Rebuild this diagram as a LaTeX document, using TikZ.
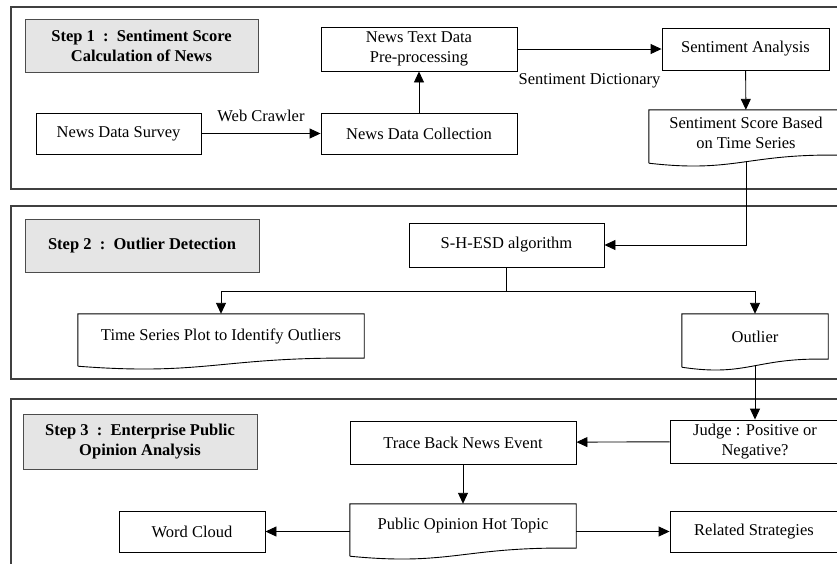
\documentclass[tikz,border=0pt]{standalone}
\usepackage{fontspec}
\setmainfont{Liberation Serif}
\usetikzlibrary{arrows.meta,calc}
\newcommand{\docwave}[1]{%
\draw[line width=0.9pt] ([yshift=-8pt]#1.south west) -- (#1.north west) -- (#1.north east) -- (#1.south east)
  .. controls ($(#1.south)+(0pt,2pt)$) and ($(#1.south west)!0.45!(#1.south east)+(0pt,-18pt)$) .. ([yshift=-8pt]#1.south west);}

\begin{document}
\begin{tikzpicture}[x=1pt,y=-1pt,font=\fontsize{16.5}{20}\selectfont,
  box/.style={draw,line width=0.9pt,align=center,inner sep=0pt},
  docbox/.style={align=center,inner sep=0pt},
  stepbox/.style={draw=black!70,fill=black!10,line width=1pt,align=center,inner sep=0pt,font=\fontsize{16.5}{20}\selectfont\bfseries},
  panel/.style={draw=black!75,line width=1.2pt},
  lbl/.style={inner sep=0pt},
  arr/.style={-{Triangle[length=11pt,width=10pt]},line width=0.9pt}]
\clip (0,0) rectangle (837,563);
\draw[panel] (11,7) rectangle (850,189);
\draw[panel] (11,206) rectangle (850,379);
\draw[panel] (11,399) rectangle (850,600);
\node[stepbox,minimum width=233,minimum height=53] (step1) at (141.5,45.5) {Step 1\enspace:\enspace Sentiment Score\\Calculation of News};
\node[box,minimum width=165,minimum height=41] (survey) at (118.5,133.5) {News Data Survey};
\node[box,minimum width=196,minimum height=41] (collect) at (419,133.5) {News Data Collection};
\node[box,minimum width=196,minimum height=44] (prep) at (419,49) {News Text Data\\Pre-processing};
\node[box,minimum width=167,minimum height=42] (senti) at (745.5,49) {Sentiment Analysis};
\node[docbox,minimum width=194,minimum height=45] (score) at (746,132.5) {Sentiment Score Based\\on Time Series};
\docwave{score}
\node[stepbox,minimum width=234,minimum height=53] (step2) at (142,245.5) {Step 2\enspace:\enspace Outlier Detection};
\node[box,minimum width=195,minimum height=44] (shesd) at (506.5,245) {S-H-ESD algorithm};
\node[docbox,minimum width=286,minimum height=44] (tsplot) at (221,336) {Time Series Plot to Identify Outliers};
\docwave{tsplot}
\node[docbox,minimum width=146,minimum height=45] (outlier) at (755,336.5) {Outlier};
\docwave{outlier}
\node[stepbox,minimum width=234,minimum height=55] (step3) at (140,441.5) {Step 3\enspace:\enspace Enterprise Public\\Opinion Analysis};
\node[box,minimum width=170,minimum height=43] (judge) at (755,441.5) {Judge : Positive or\\Negative?};
\node[box,minimum width=226,minimum height=43] (trace) at (463,442.5) {Trace Back News Event};
\node[docbox,minimum width=226,minimum height=44] (hot) at (463,526) {Public Opinion Hot Topic};
\docwave{hot}
\node[box,minimum width=146,minimum height=41] (cloud) at (192,531.5) {Word Cloud};
\node[box,minimum width=168,minimum height=41] (related) at (754,531.5) {Related Strategies};
\draw[arr] (survey) -- node[lbl,above=11pt]{Web Crawler} (collect);
\draw[arr] (collect) -- (prep);
\draw[arr] (prep) -- node[lbl,below=24pt]{Sentiment Dictionary} (senti);
\draw[arr] (senti) -- (score);
\draw[arr] ([yshift=-7pt]score.south) |- (shesd.east);
\coordinate (split) at ($(shesd.south)+(0,24)$);
\draw[line width=0.9pt] (shesd.south) -- (split);
\draw[arr] (split) -| (tsplot.north);
\draw[arr] (split) -| (outlier.north);
\draw[arr] ([yshift=-7pt]outlier.south) -- (judge.north);
\draw[arr] (judge) -- (trace);
\draw[arr] (trace) -- (hot);
\draw[arr] (cloud.east -| hot.west) -- (cloud.east);
\draw[arr] (related.west -| hot.east) -- (related.west);
\end{tikzpicture}
\end{document}
